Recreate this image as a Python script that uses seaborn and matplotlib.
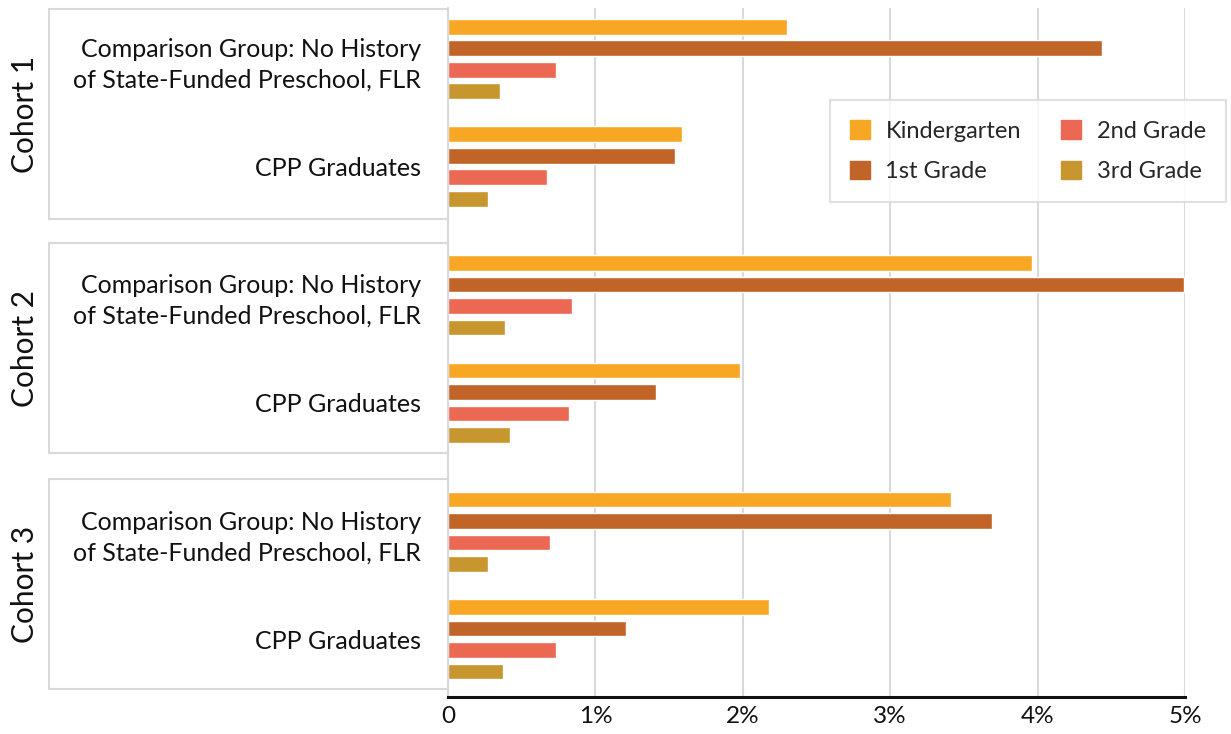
import matplotlib
matplotlib.use("Agg")
import matplotlib.pyplot as plt
import matplotlib.patches as mpatches
from matplotlib.ticker import FuncFormatter
import pandas as pd
import seaborn as sns

cohorts = ["Cohort 1", "Cohort 2", "Cohort 3"]
groups = ["Comparison Group: No History\nof State-Funded Preschool, FLR", "CPP Graduates"]
grades = ["Kindergarten", "1st Grade", "2nd Grade", "3rd Grade"]
colors = ["#F8A724", "#C06428", "#EB6853", "#C8962E"]

# percent values, [comparison, cpp] per cohort
kindergarten = [[2.30, 1.59], [3.96, 1.98], [3.41, 2.18]]
first_grade = [[4.44, 1.54], [4.99, 1.41], [3.69, 1.21]]
second_grade = [[0.73, 0.67], [0.84, 0.82], [0.69, 0.73]]
third_grade = [[0.35, 0.27], [0.39, 0.42], [0.27, 0.37]]

series = [kindergarten, first_grade, second_grade, third_grade]
rows = []
for c, cohort in enumerate(cohorts):
    for g, group in enumerate(groups):
        for s, grade in enumerate(grades):
            rows.append({"cohort": cohort, "group": group, "grade": grade,
                         "value": series[s][c][g] / 100})
df = pd.DataFrame(rows)

sns.set_style("white")
plt.rcParams["font.family"] = ["Lato", "DejaVu Sans"]

W, H = 1231, 734
fig = plt.figure(figsize=(W / 100, H / 100), dpi=100)

# background axes: gridlines + x axis
left, right = 448, 1185
bg = fig.add_axes([left / W, (H - 696.7) / H, (right - left) / W, (696.7 - 8) / H])
bg.set_xlim(0, 0.05)
bg.set_ylim(0, 1)
bg.set_xticks([0, 0.01, 0.02, 0.03, 0.04, 0.05])
bg.xaxis.set_major_formatter(FuncFormatter(lambda v, p: "0" if v == 0 else f"{v * 100:.0f}%"))
bg.set_yticks([])
bg.grid(axis="x", color="#d9d9d9", lw=1.5)
bg.tick_params(axis="x", length=0, pad=7, labelsize=17.5, colors="#111111")
for sp in ["top", "right"]:
    bg.spines[sp].set_visible(False)
bg.spines["bottom"].set_color("#111111")
bg.spines["bottom"].set_linewidth(2.2)
bg.spines["left"].set_color("#d9d9d9")
bg.spines["left"].set_linewidth(1.5)

ax_tops = [5.3, 241.5, 478]
box_tops = [9.3, 243.3, 479.3]
for c, cohort in enumerate(cohorts):
    top = ax_tops[c]
    ax = fig.add_axes([left / W, (H - top - 215) / H, (right - left) / W, 215 / H])
    sub = df[df["cohort"] == cohort]
    sns.barplot(data=sub, x="value", y="group", hue="grade", hue_order=grades,
                palette=colors, saturation=1, width=0.8, gap=0.27, legend=False, ax=ax)
    ax.set_xlim(0, 0.05)
    ax.patch.set_visible(False)
    for sp in ax.spines.values():
        sp.set_visible(False)
    ax.set_xticks([])
    ax.set_xlabel("")
    ax.set_ylabel("")
    ax.tick_params(axis="y", length=0, pad=19.5, labelsize=18, colors="#111111")
    for lab in ax.get_yticklabels():
        lab.set_linespacing(1.4)
        lab.set_horizontalalignment("right")

    bt = box_tops[c]
    fig.add_artist(mpatches.Rectangle((49 / W, (H - bt - 210) / H), (448 - 49) / W, 210 / H,
                                      transform=fig.transFigure, fill=False,
                                      edgecolor="#d9d9d9", lw=1.5))
    fig.text(25 / W, (H - bt - 105) / H, cohort, rotation=90, ha="center", va="center",
             fontsize=21.5, color="#111111")

handles = [mpatches.Patch(color=col, label=g) for g, col in zip(grades, colors)]
leg = fig.legend(handles=handles, ncol=2, loc="upper left",
                 bbox_to_anchor=(830 / W, 1 - 100 / H), borderaxespad=0,
                 frameon=True, fancybox=False, edgecolor="#d9d9d9", fontsize=17,
                 handlelength=0.85, handleheight=0.85, handletextpad=0.65,
                 labelspacing=0.8, columnspacing=1.7, borderpad=0.85)
leg.get_frame().set_linewidth(1.5)

fig.savefig("out.png", dpi=100)
